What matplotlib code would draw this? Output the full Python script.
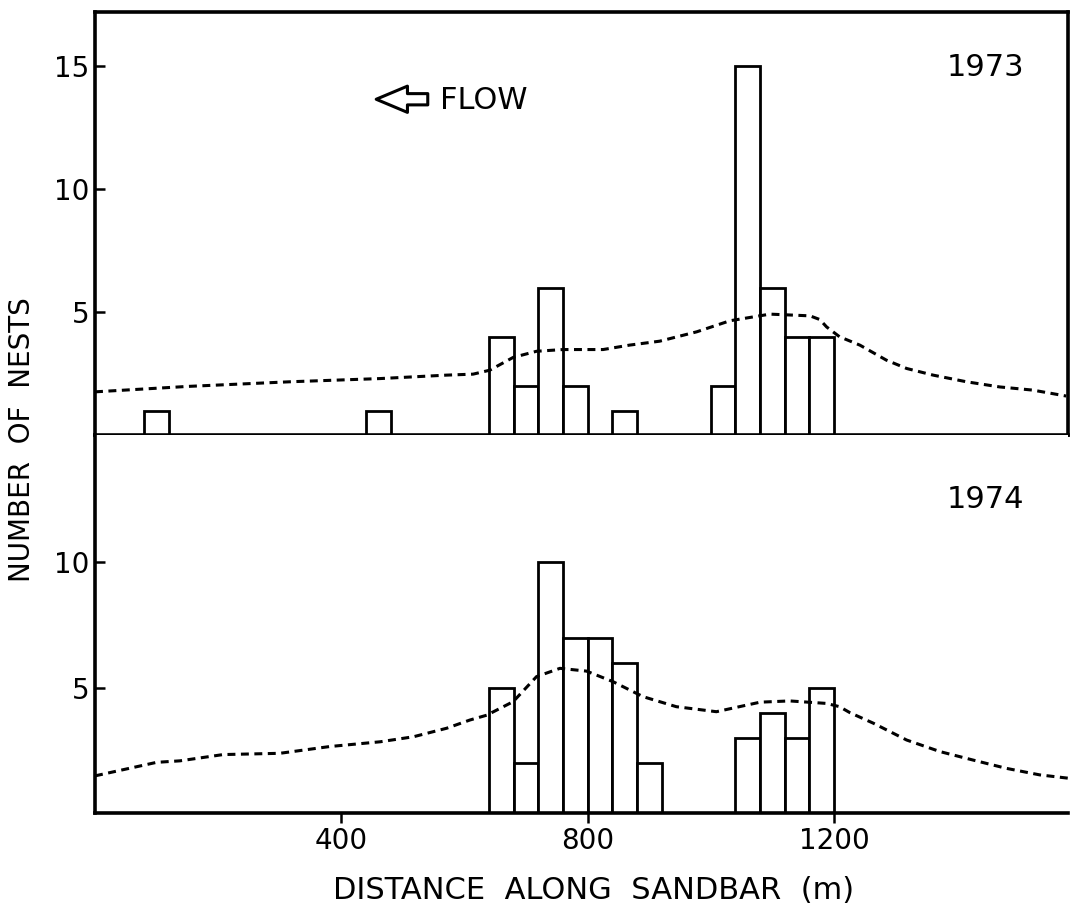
import matplotlib
matplotlib.use("Agg")
import matplotlib.pyplot as plt

# 40 m bins, left edges (m) and nest counts
bins_1973 = [80, 440, 640, 680, 720, 760, 840, 1000, 1040, 1080, 1120, 1160]
nests_1973 = [1, 1, 4, 2, 6, 2, 1, 2, 15, 6, 4, 4]

bins_1974 = [640, 680, 720, 760, 800, 840, 880, 1040, 1080, 1120, 1160]
nests_1974 = [5, 2, 10, 7, 7, 6, 2, 3, 4, 3, 5]

# dashed curves (distance m, value)
curve_x_1973 = [0, 150, 317, 463, 571, 614, 641, 679, 717, 760, 825, 868, 917,
                977, 1031, 1096, 1161, 1177, 1188, 1209, 1242, 1285, 1318, 1361,
                1415, 1469, 1523, 1577]
curve_y_1973 = [1.76, 1.98, 2.17, 2.30, 2.44, 2.48, 2.64, 3.16, 3.41, 3.48, 3.48,
                3.66, 3.82, 4.20, 4.65, 4.92, 4.85, 4.70, 4.40, 4.00, 3.66, 3.05,
                2.71, 2.44, 2.17, 1.96, 1.83, 1.59]

curve_x_1974 = [0, 100, 138, 208, 300, 381, 463, 517, 571, 609, 636, 679, 717,
                755, 798, 841, 890, 944, 1009, 1080, 1128, 1188, 1209, 1226, 1264,
                1318, 1372, 1426, 1480, 1534, 1583]
curve_y_1974 = [1.48, 2.02, 2.08, 2.33, 2.38, 2.65, 2.84, 3.04, 3.38, 3.71, 3.90,
                4.44, 5.44, 5.77, 5.66, 5.24, 4.64, 4.24, 4.04, 4.42, 4.47, 4.37,
                4.24, 4.00, 3.58, 2.91, 2.45, 2.11, 1.78, 1.52, 1.38]

plt.rcParams['font.family'] = ['DejaVu Sans']

fig = plt.figure(figsize=(10.71, 9.18), dpi=100)
ax1 = fig.add_axes([0.0887, 0.526, 0.9085, 0.4608])
ax2 = fig.add_axes([0.0887, 0.1144, 0.9085, 0.4118])

for ax, bins, nests, cx, cy, ymax in [
        (ax1, bins_1973, nests_1973, curve_x_1973, curve_y_1973, 17.2),
        (ax2, bins_1974, nests_1974, curve_x_1974, curve_y_1974, 15.08)]:
    ax.bar(bins, nests, width=40, align='edge', facecolor='white',
           edgecolor='black', linewidth=2.0, zorder=2)
    ax.plot(cx, cy, color='black', linewidth=2.2, linestyle=(0, (2.6, 1.8)),
            zorder=3)
    ax.set_xlim(0, 1580)
    ax.set_ylim(0, ymax)
    for s in ax.spines.values():
        s.set_linewidth(2.6)
    ax.tick_params(axis='y', direction='in', length=7, width=1.8,
                   labelsize=20, pad=4)

ax1.set_yticks([5, 10, 15])
ax1.set_xticks([])
ax2.set_yticks([5, 10])
ax2.set_xticks([400, 800, 1200])
ax2.tick_params(axis='x', direction='out', length=7, width=1.8,
                labelsize=20, pad=3)
ax2.spines['top'].set_visible(False)
ax2.spines['right'].set_visible(False)

ax1.text(0.915, 0.87, "1973", transform=ax1.transAxes, fontsize=22,
         ha='center', va='center')
ax2.text(0.915, 0.83, "1974", transform=ax2.transAxes, fontsize=22,
         ha='center', va='center')

# hollow flow arrow pointing upstream (left)
ax1.annotate("", xy=(0.289, 0.794), xytext=(0.342, 0.794),
             xycoords='axes fraction', textcoords='axes fraction',
             arrowprops=dict(arrowstyle="simple,head_length=1.25,head_width=1.05,tail_width=0.45",
                             mutation_scale=18, facecolor='white',
                             edgecolor='black', linewidth=2.2,
                             shrinkA=0, shrinkB=0))
ax1.text(0.355, 0.792, "FLOW", transform=ax1.transAxes, fontsize=22,
         ha='left', va='center')

fig.text(0.5546, 0.0305, "DISTANCE  ALONG  SANDBAR  (m)", fontsize=22,
         ha='center', va='center')
fig.text(0.0205, 0.5207, "NUMBER  OF  NESTS", fontsize=20, rotation=90,
         ha='center', va='center')

fig.savefig("out.png", dpi=100)
